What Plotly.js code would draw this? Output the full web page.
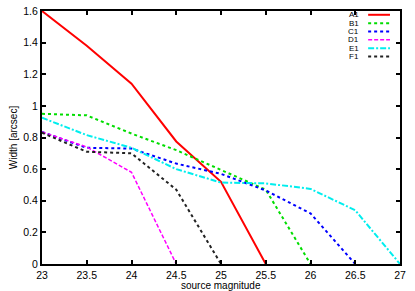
<!DOCTYPE html>
<html>
<head>
<meta charset="utf-8">
<script src="https://cdn.plot.ly/plotly-3.0.1.min.js"></script>
<style>
  html, body { margin: 0; padding: 0; background: #fff; }
  #plot { width: 415px; height: 291px; }
</style>
</head>
<body>
<div id="plot"></div>
<script>
// magnitudes
let magA = [23, 23.5, 24, 24.5, 25, 25.5];
let widthA = [1.6, 1.38, 1.14, 0.775, 0.52, 0];

let magB = [23, 23.5, 24, 24.5, 25, 25.5, 26];
let widthB = [0.95, 0.94, 0.825, 0.72, 0.595, 0.47, 0];

let magC = [23, 23.5, 24, 24.5, 25, 25.5, 26, 26.5];
let widthC = [0.835, 0.735, 0.73, 0.635, 0.57, 0.465, 0.32, 0];

let magD = [23, 23.5, 24, 24.5];
let widthD = [0.835, 0.74, 0.58, 0];

let magE = [23, 23.5, 24, 24.5, 25, 25.5, 26, 26.5, 27];
let widthE = [0.925, 0.815, 0.735, 0.6, 0.515, 0.51, 0.475, 0.34, 0];

let magF = [23, 23.5, 24, 24.5, 25];
let widthF = [0.83, 0.71, 0.70, 0.47, 0];

let names = ["A1", "B1", "C1", "D1", "E1", "F1"];
let colors = ["#ff0000", "#00dd00", "#0000ff", "#ff00ff", "#00eeee", "#222222"];
let dashes = ["solid", "dot", "dot", "4px,2px", "6px,2px,2px,2px", "dot"];
let widths = [2, 2, 2, 1.5, 2, 2];

let xs = [magA, magB, magC, magD, magE, magF];
let ys = [widthA, widthB, widthC, widthD, widthE, widthF];

let traces = names.map((name, i) => ({
  x: xs[i],
  y: ys[i],
  name: name,
  mode: "lines",
  type: "scatter",
  showlegend: false,
  line: {color: colors[i], dash: dashes[i], width: widths[i]}
}));

// gnuplot style key: label on the left, sample on the right
let keyTop = 0.985, keyStep = 0.033;
let annotations = [];
let shapes = [];
names.forEach((name, i) => {
  let yk = keyTop - i * keyStep;
  annotations.push({
    xref: "paper", yref: "paper",
    x: 0.89, y: yk,
    xanchor: "right", yanchor: "middle",
    text: name, showarrow: false,
    font: {family: "Liberation Sans, Arial, sans-serif", size: 8, color: "#000"}
  });
  shapes.push({
    type: "line", xref: "paper", yref: "paper",
    x0: 0.911, x1: 0.972, y0: yk, y1: yk,
    line: {color: colors[i], dash: dashes[i], width: widths[i]}
  });
});

let tickFont = {family: "Liberation Sans, Arial, sans-serif", size: 10.5, color: "#000"};
let titleFont = {family: "Liberation Sans, Arial, sans-serif", size: 10, color: "#000"};

// x axis title sits close under the tick labels, at the bottom edge
annotations.push({
  xref: "paper", yref: "paper",
  x: 0.5, y: 0, yshift: -28,
  xanchor: "center", yanchor: "bottom",
  borderpad: 0,
  text: "source magnitude", showarrow: false,
  font: titleFont
});

let layout = {
  width: 415,
  height: 291,
  margin: {l: 42, r: 15, t: 11, b: 27},
  paper_bgcolor: "#fff",
  plot_bgcolor: "#fff",
  font: tickFont,
  showlegend: false,
  annotations: annotations,
  shapes: shapes,
  xaxis: {
    range: [23, 27],
    dtick: 0.5,
    tick0: 23,
    showgrid: false,
    zeroline: false,
    showline: true,
    linecolor: "#000",
    linewidth: 2,
    mirror: "ticks",
    ticks: "inside",
    ticklen: 4,
    tickwidth: 2,
    tickcolor: "#000",
    tickfont: tickFont
  },
  yaxis: {
    range: [0, 1.6],
    dtick: 0.2,
    tick0: 0,
    showgrid: false,
    zeroline: false,
    showline: true,
    linecolor: "#000",
    linewidth: 2,
    mirror: "ticks",
    ticks: "inside",
    ticklen: 4,
    tickwidth: 2,
    tickcolor: "#000",
    tickfont: tickFont,
    title: {text: "Width [arcsec]", font: titleFont, standoff: 4}
  }
};

Plotly.newPlot("plot", traces, layout, {displayModeBar: false, staticPlot: true});
</script>
</body>
</html>
